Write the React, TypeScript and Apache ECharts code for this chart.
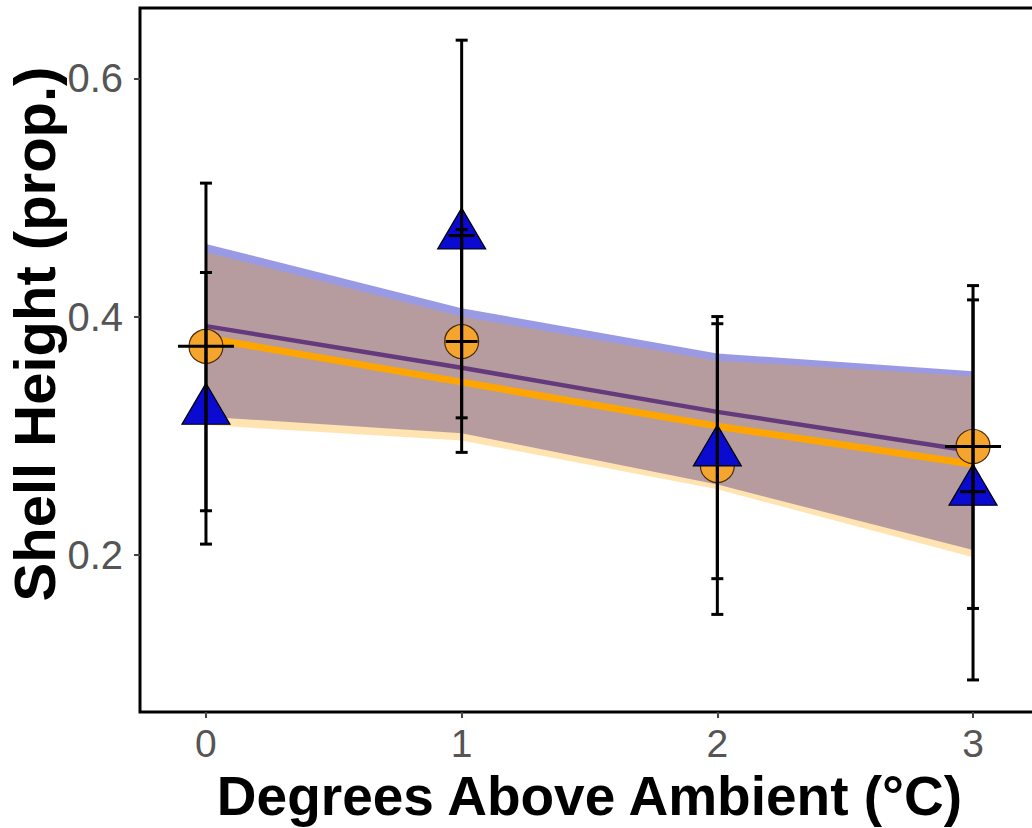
import React, { useEffect, useRef } from "react";
import * as echarts from "echarts";

// Temperature treatments (degrees above ambient)
const xValues = [0, 1, 2, 3];

// Group means
const circleMean = [0.375, 0.379, 0.275, 0.291];
const triangleMean = [0.321, 0.468, 0.286, 0.253];

// Error bars (two intervals per treatment)
const ciInnerLow = [0.237, 0.315, 0.18, 0.155];
const ciInnerHigh = [0.437, 0.473, 0.394, 0.414];
const ciOuterLow = [0.209, 0.286, 0.15, 0.095];
const ciOuterHigh = [0.512, 0.632, 0.4, 0.426];

// Model fits with confidence ribbons
const fitOrange = [0.382, 0.345, 0.308, 0.276];
const fitOrangeLow = [0.309, 0.296, 0.255, 0.198];
const fitOrangeHigh = [0.454, 0.4, 0.363, 0.35];
const fitPurple = [0.392, 0.357, 0.32, 0.287];
const fitPurpleLow = [0.316, 0.302, 0.259, 0.204];
const fitPurpleHigh = [0.461, 0.407, 0.369, 0.354];

// Axis ticks
const xTicks = [0, 1, 2, 3];
const yTicks = [0.2, 0.4, 0.6];

// Titles
const xTitle = "Degrees Above Ambient (°C)";
const yTitle = "Shell Height (prop.)";

// Half-widths (px) of the horizontal strokes through the markers
const circleCrossHalf = [28, 16, 0, 28];
const triangleCrossHalf = [0, 13, 0, 13];

const FONT = "'Liberation Sans', Arial, Helvetica, sans-serif";

function bandSeries(low: number[], high: number[], fill: string, z: number) {
  return {
    type: "custom",
    z,
    silent: true,
    data: [[0, 0]],
    renderItem: (_params: any, api: any) => {
      const upper = xValues.map((x, i) => api.coord([x, high[i]]));
      const lower = xValues.map((x, i) => api.coord([x, low[i]])).reverse();
      return {
        type: "polygon",
        shape: { points: upper.concat(lower) },
        style: { fill },
      };
    },
  };
}

function errorBarSeries(low: number[], high: number[], z: number) {
  const cap = 6;
  return {
    type: "custom",
    z,
    silent: true,
    data: xValues.map((x, i) => [x, low[i], high[i]]),
    renderItem: (_params: any, api: any) => {
      const top = api.coord([api.value(0), api.value(2)]);
      const bottom = api.coord([api.value(0), api.value(1)]);
      const style = { stroke: "#000", lineWidth: 3 };
      return {
        type: "group",
        children: [
          { type: "line", shape: { x1: top[0], y1: top[1], x2: bottom[0], y2: bottom[1] }, style },
          { type: "line", shape: { x1: top[0] - cap, y1: top[1], x2: top[0] + cap, y2: top[1] }, style },
          { type: "line", shape: { x1: bottom[0] - cap, y1: bottom[1], x2: bottom[0] + cap, y2: bottom[1] }, style },
        ],
      };
    },
  };
}

function crossSeries(means: number[], half: number[], z: number) {
  return {
    type: "custom",
    z,
    silent: true,
    data: xValues.map((x, i) => [x, means[i], i]),
    renderItem: (_params: any, api: any) => {
      const p = api.coord([api.value(0), api.value(1)]);
      const h = half[api.value(2)];
      if (!h) return { type: "group", children: [] };
      return {
        type: "line",
        shape: { x1: p[0] - h, y1: p[1], x2: p[0] + h, y2: p[1] },
        style: { stroke: "#000", lineWidth: 3 },
      };
    },
  };
}

export default function App() {
  const ref = useRef<HTMLDivElement>(null);

  useEffect(() => {
    if (!ref.current) return;
    const chart = echarts.init(ref.current, null, { renderer: "svg" });
    chart.setOption({
      animation: false,
      backgroundColor: "#fff",
      grid: {
        left: 140,
        top: 8,
        width: 899,
        height: 705,
        show: true,
        borderColor: "#000",
        borderWidth: 3,
        backgroundColor: "#fff",
        z: 0,
      },
      graphic: [
        {
          type: "text",
          x: 34,
          y: 334,
          rotation: Math.PI / 2,
          style: {
            text: yTitle,
            fontFamily: FONT,
            fontSize: 58,
            fontWeight: "bold",
            fill: "#000",
            align: "center",
            verticalAlign: "middle",
          },
        },
      ],
      xAxis: {
        type: "value",
        min: -0.258,
        max: 3.258,
        name: xTitle,
        nameLocation: "middle",
        nameGap: 52,
        nameTextStyle: { fontFamily: FONT, fontSize: 55, fontWeight: "bold", color: "#000" },
        axisLine: { show: false, onZero: false },
        splitLine: { show: false },
        axisTick: { show: true, customValues: xTicks, length: 6, lineStyle: { color: "#444", width: 2 } },
        axisLabel: {
          customValues: xTicks,
          fontFamily: FONT,
          fontSize: 39,
          color: "#555",
          margin: 12,
          formatter: (v: number) => String(v),
        },
      },
      yAxis: {
        type: "value",
        min: 0.068,
        max: 0.659,
        axisLine: { show: false, onZero: false },
        splitLine: { show: false },
        axisTick: { show: true, customValues: yTicks, length: 6, lineStyle: { color: "#444", width: 2 } },
        axisLabel: {
          customValues: yTicks,
          fontFamily: FONT,
          fontSize: 40,
          color: "#555",
          margin: 17,
          formatter: (v: number) => v.toFixed(1),
        },
      },
      series: [
        bandSeries(fitPurpleLow, fitPurpleHigh, "rgba(0,0,187,0.4)", 1),
        bandSeries(fitOrangeLow, fitOrangeHigh, "rgba(255,165,0,0.3)", 1),
        {
          type: "line",
          z: 2,
          silent: true,
          symbol: "none",
          data: xValues.map((x, i) => [x, fitOrange[i]]),
          lineStyle: { color: "#FFA500", width: 7 },
        },
        {
          type: "line",
          z: 2,
          silent: true,
          symbol: "none",
          data: xValues.map((x, i) => [x, fitPurple[i]]),
          lineStyle: { color: "#643a7c", width: 4.5 },
        },
        {
          type: "scatter",
          z: 3,
          symbol: "circle",
          symbolSize: 34,
          data: xValues.map((x, i) => [x, circleMean[i]]),
          itemStyle: { color: "#F5A52E", borderColor: "#4a2a08", borderWidth: 1.2, opacity: 1 },
        },
        {
          type: "scatter",
          z: 4,
          symbol: "triangle",
          symbolSize: [48, 41],
          symbolOffset: [0, -7],
          data: xValues.map((x, i) => [x, triangleMean[i]]),
          itemStyle: { color: "#0a0ad0", borderColor: "#000", borderWidth: 1.2, opacity: 1 },
        },
        crossSeries(circleMean, circleCrossHalf, 5),
        crossSeries(triangleMean, triangleCrossHalf, 5),
        errorBarSeries(ciOuterLow, ciOuterHigh, 6),
        errorBarSeries(ciInnerLow, ciInnerHigh, 6),
      ],
    });
    return () => chart.dispose();
  }, []);

  return (
    <div
      style={{
        position: "absolute",
        left: 0,
        top: 0,
        width: 1032,
        height: 828,
        overflow: "hidden",
        background: "#fff",
      }}
    >
      <div ref={ref} style={{ width: 1060, height: 828 }} />
    </div>
  );
}
